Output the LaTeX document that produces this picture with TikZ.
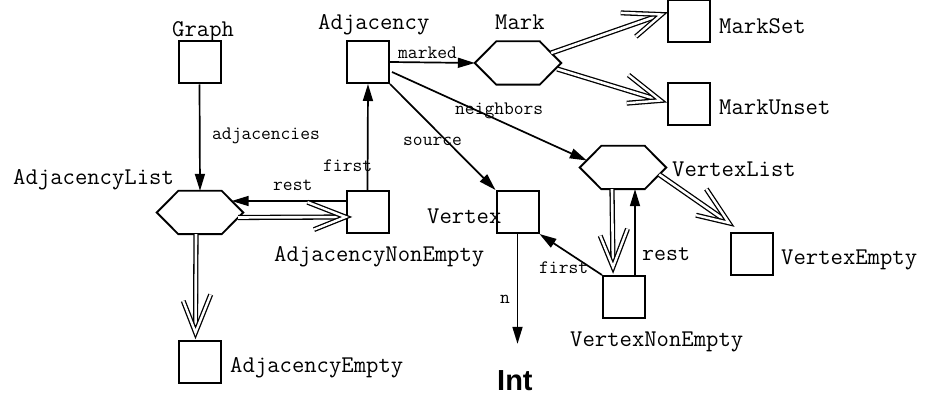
\documentclass[tikz,border=0pt]{standalone}
\usepackage{fontspec}
\setmainfont{Liberation Serif}
\newfontfamily\sansfont{Liberation Sans}
\usetikzlibrary{arrows.meta,calc,decorations.markings}
\newcommand\hexdraw[1]{\draw[line width=1.9pt, line join=miter] (#1.west) -- ([xshift=21.5pt]#1.north west) -- ([xshift=-21.5pt]#1.north east) -- (#1.east) -- ([xshift=-21.5pt]#1.south east) -- ([xshift=21.5pt]#1.south west) -- cycle;}
\begin{document}
\begin{tikzpicture}[x=1pt,y=-1pt,
  box/.style={draw, line width=2pt, minimum width=42pt, minimum height=42pt, inner sep=0pt},
  hexnode/.style={minimum width=86pt, minimum height=43pt, inner sep=0pt},
  biglabel/.style={font=\ttfamily\fontsize{24}{24}\selectfont, inner sep=0pt, anchor=base west},
  smalllabel/.style={font=\ttfamily\fontsize{19}{19}\selectfont, inner sep=0pt, anchor=base west},
  rel/.style={line width=1.7pt, -{Triangle[length=17pt,width=10pt]}},
  isa/.style={draw, line width=1.3pt, double=white, double distance=2.6pt, shorten >=7pt,
     postaction={decorate, decoration={markings, mark=at position 1 with {\draw[line width=1.3pt, double=white, double distance=2.4pt, line join=miter, line cap=butt] (-38pt,15pt) -- (0pt,0pt) -- (-38pt,-15pt);}}}}
]
\useasboundingbox (0,0) rectangle (926,395);
% nodes
\node[box] (graph) at (199.5,62.5) {};
\node[box] (adjacency) at (368,62) {};
\node[hexnode] (mark) at (518,63) {};
\node[box] (markset) at (688.5,21.5) {};
\node[box] (markunset) at (688.5,104.5) {};
\node[hexnode] (vlist) at (623,167.5) {};
\node[box] (vempty) at (752,254) {};
\node[box] (vne) at (624,297) {};
\node[box] (vertex) at (517.5,212) {};
\node[box] (adjne) at (367.5,212) {};
\node[hexnode] (adjlist) at (200,212.5) {};
\node[box] (adjempty) at (199.5,361.5) {};
\node[font=\sansfont\bfseries\fontsize{29}{29}\selectfont, inner sep=0pt, anchor=base west] (int) at (497,390) {Int};
\hexdraw{mark}
\hexdraw{vlist}
\hexdraw{adjlist}
% labels
\node[biglabel] (lgraph) at (172,36.5) {Graph};
\node[biglabel] (ladj) at (318,29.5) {Adjacency};
\node[biglabel] (lmark) at (495,29.5) {Mark};
\node[biglabel] (lmarkset) at (719,33.5) {MarkSet};
\node[biglabel] (lmarkunset) at (719,115) {MarkUnset};
\node[biglabel] (lvlist) at (672,176.5) {VertexList};
\node[biglabel] (lvempty) at (781,265) {VertexEmpty};
\node[biglabel] (lvne) at (570,346) {VertexNonEmpty};
\node[biglabel] (lvertex) at (427,224) {Vertex};
\node[biglabel] (ladjne) at (274,262) {AdjacencyNonEmpty};
\node[biglabel] (ladjlist) at (13,185) {AdjacencyList};
\node[biglabel] (ladjempty) at (230,372) {AdjacencyEmpty};
\node[smalllabel] (ladjacencies) at (212,140) {adjacencies};
\node[smalllabel] (lmarked) at (398,58.5) {marked};
\node[smalllabel] (lneighbors) at (455,114.5) {neighbors};
\node[smalllabel] (lsource) at (403,146) {source};
\node[smalllabel] (lfirstl) at (323,171.5) {first};
\node[smalllabel] (lrestl) at (273,191) {rest};
\node[smalllabel] (lfirstr) at (539,274) {first};
\node[smalllabel] (ln) at (500,303) {n};
\node[biglabel, font=\ttfamily\fontsize{23.2}{23.2}\selectfont] (lrestr) at (642,261) {rest};
% connectors
\draw[rel] (graph.south) -- (adjlist.north);
\draw[rel] (adjne.north) -- (adjacency.south);
\draw[rel] ($(adjne.west)+(0,-11)$) -- ($(adjlist.east)+(-11.5,-11.5)$);
\draw[isa] ($(adjlist.east)+(-5,5)$) -- ($(adjne.west)+(0,5)$);
\draw[isa] ($(adjlist.south)+(-4,0)$) -- ($(adjempty.north)+(-4,-7)$);
\draw[rel] (adjacency.east) -- (mark.west);
\draw[rel] ($(adjacency.east)+(2,10)$) -- ($(vlist.west)+(7,-7)$);
\draw[rel] (adjacency.south east) -- (vertex.north west);
\draw[isa] ($(mark.east)+(-10,-10)$) -- ($(markset.west)+(-5,-7)$);
\draw[isa] ($(mark.east)+(-4,6)$) -- ($(markunset.west)+(-6,-4)$);
\draw[isa] ($(vlist.south)+(-11,0)$) -- ($(vne.north)+(-11,-8)$);
\draw[rel] ($(vne.north)+(11,0)$) -- ($(vlist.south)+(12,0)$);
\draw[isa] ($(vlist.east)+(-7,7)$) -- ($(vempty.north west)+(-1,-9)$);
\draw[rel] (vne.north west) -- (vertex.south east);
\draw[rel, shorten >=26pt] (vertex.south) -- (vertex.south |- int.north);
\end{tikzpicture}
\end{document}
